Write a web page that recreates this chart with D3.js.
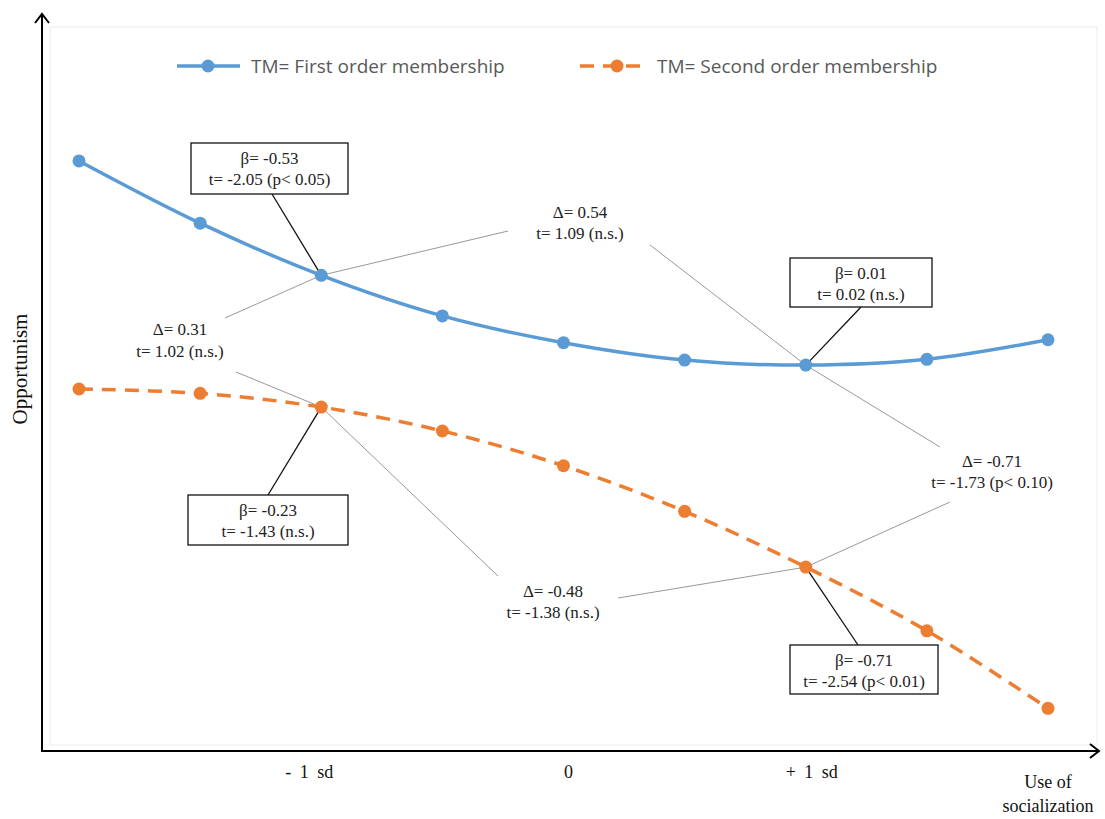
<!DOCTYPE html>
<html>
<head>
<meta charset="utf-8">
<script src="https://cdn.jsdelivr.net/npm/d3@7"></script>
<style>
  html, body { margin: 0; padding: 0; background: #fff; }
  svg { display: block; }
</style>
</head>
<body>
<svg id="chart" width="1105" height="819"></svg>
<script>
// ---------- data ----------
const xValues = [-2, -1.5, -1, -0.5, 0, 0.5, 1, 1.5, 2];           // use of socialization (sd units)
const firstOrder  = [8.15, 7.29, 6.57, 6.01, 5.64, 5.40, 5.33, 5.41, 5.68];
const secondOrder = [5.00, 4.94, 4.75, 4.42, 3.94, 3.31, 2.54, 1.66, 0.59];
const seriesNames = ["TM= First order membership", "TM= Second order membership"];
const tickValues = [-1, 0, 1];
const tickLabels = ["- 1 sd", "0", "+ 1 sd"];
const xTitle = ["Use of", "socialization"];
const yTitle = "Opportunism";

// slope boxes: [series index, x value, line1, line2]
const slopeNotes = [
  [0, -1, "β= -0.53", "t= -2.05 (p< 0.05)"],
  [0,  1, "β= 0.01",  "t= 0.02 (n.s.)"],
  [1, -1, "β= -0.23", "t= -1.43 (n.s.)"],
  [1,  1, "β= -0.71", "t= -2.54 (p< 0.01)"]
];
// difference notes: line1, line2, two anchored points [series, x]
const diffNotes = [
  ["Δ= 0.31",  "t= 1.02 (n.s.)",     [[0, -1], [1, -1]]],
  ["Δ= 0.54",  "t= 1.09 (n.s.)",     [[0, -1], [0, 1]]],
  ["Δ= -0.71", "t= -1.73 (p< 0.10)", [[0, 1], [1, 1]]],
  ["Δ= -0.48", "t= -1.38 (n.s.)",    [[1, -1], [1, 1]]]
];

// ---------- layout (pixels) ----------
const colors = ["#5B9BD5", "#ED7D31"];
const svg = d3.select("#chart");
const x = d3.scaleLinear().domain([-2, 2]).range([79, 1048]);
const y = d3.scaleLinear().domain([0, 10]).range([751, 27]);
const series = [firstOrder, secondOrder];
const pt = (s, xv) => [x(xv), y(series[s][xValues.indexOf(xv)])];
const serifFont = "'Liberation Serif', 'Times New Roman', serif";

// faint plot area border
svg.append("rect").attr("x", 50).attr("y", 27).attr("width", 1047).attr("height", 718)
  .attr("fill", "none").attr("stroke", "#ececec").attr("stroke-width", 1);

// axes with arrowheads
const axisG = svg.append("g").attr("stroke", "#000").attr("stroke-width", 2).attr("fill", "none");
axisG.append("path").attr("d", `M42,752 L42,14`);
axisG.append("path").attr("d", `M35,23 L42,14 L49,23`);
axisG.append("path").attr("d", `M41,751 L1099,751`);
axisG.append("path").attr("d", `M1090,744 L1099,751 L1090,758`);

// x tick labels using axis generator (no lines)
const xAxis = d3.axisBottom(x).tickValues(tickValues)
  .tickFormat((d, i) => tickLabels[i]).tickSize(0).tickPadding(0);
const gx = svg.append("g").attr("transform", "translate(0,762)").call(xAxis);
gx.select(".domain").remove();
gx.selectAll("text").attr("font-family", serifFont)
  .attr("font-size", 18).attr("fill", "#111").attr("dy", "0.9em")
  .attr("word-spacing", d => d === 0 ? 0 : 4).style("white-space", "pre");
gx.selectAll(".tick").attr("transform", d => `translate(${x(d) + (d === 0 ? 5 : (d < 0 ? -12 : 6))},0)`);

svg.append("text").attr("x", x(2)).attr("y", 788).attr("text-anchor", "middle")
  .attr("font-family", serifFont).attr("font-size", 18).attr("fill", "#111").text(xTitle[0]);
svg.append("text").attr("x", x(2)).attr("y", 812).attr("text-anchor", "middle")
  .attr("font-family", serifFont).attr("font-size", 18).attr("fill", "#111").text(xTitle[1]);

svg.append("text").attr("transform", "translate(27,369) rotate(-90)").attr("text-anchor", "middle")
  .attr("font-family", serifFont).attr("font-size", 21).attr("fill", "#111").text(yTitle);

// ---------- annotation leader lines (under series) ----------
const diffLayout = [
  {cx: 180, y1: 335, y2: 357, ends: [[225, 318], [236, 372]]},
  {cx: 580, y1: 218, y2: 239, ends: [[508, 231], [650, 245]]},
  {cx: 992, y1: 467, y2: 488, ends: [[940, 447], [950, 502]]},
  {cx: 553, y1: 597, y2: 618, ends: [[498, 576], [618, 598]]}
];
const annoLines = svg.append("g");
diffNotes.forEach((d, i) => {
  const L = diffLayout[i];
  d[2].forEach((a, k) => {
    const p = pt(a[0], a[1]);
    annoLines.append("line").attr("x1", L.ends[k][0]).attr("y1", L.ends[k][1])
      .attr("x2", p[0]).attr("y2", p[1]).attr("stroke", "#8c8c8c").attr("stroke-width", 0.9);
  });
});
const boxLayout = [
  {x0: 191, y0: 143, w: 157, h: 51, lx: 272, ly: 194},
  {x0: 790, y0: 258, w: 142, h: 49, lx: 861, ly: 307},
  {x0: 188, y0: 495, w: 160, h: 50, lx: 268, ly: 495},
  {x0: 790, y0: 645, w: 148, h: 49, lx: 858, ly: 645}
];
slopeNotes.forEach((d, i) => {
  const B = boxLayout[i];
  const p = pt(d[0], d[1]);
  annoLines.append("line").attr("x1", B.lx).attr("y1", B.ly).attr("x2", p[0]).attr("y2", p[1])
    .attr("stroke", "#111").attr("stroke-width", 1.3);
});

// ---------- series ----------
const line = d3.line().x((d, i) => x(xValues[i])).y(d => y(d)).curve(d3.curveCatmullRom.alpha(0.5));
series.forEach((s, si) => {
  svg.append("path").datum(s).attr("d", line).attr("fill", "none")
    .attr("stroke", colors[si]).attr("stroke-width", 3.5)
    .attr("stroke-dasharray", si === 1 ? "14,9" : null);
  svg.append("g").selectAll("circle").data(s).join("circle")
    .attr("cx", (d, i) => x(xValues[i])).attr("cy", d => y(d)).attr("r", 6.5)
    .attr("fill", colors[si]);
});

// ---------- boxes and texts ----------
slopeNotes.forEach((d, i) => {
  const B = boxLayout[i];
  svg.append("rect").attr("x", B.x0).attr("y", B.y0).attr("width", B.w).attr("height", B.h)
    .attr("fill", "#fff").attr("stroke", "#111").attr("stroke-width", 1.3);
  const cx = B.x0 + B.w / 2;
  svg.append("text").attr("x", cx).attr("y", B.y0 + 21).attr("text-anchor", "middle")
    .attr("font-family", serifFont).attr("font-size", 17).attr("fill", "#222").text(d[2]);
  svg.append("text").attr("x", cx).attr("y", B.y0 + 42).attr("text-anchor", "middle")
    .attr("font-family", serifFont).attr("font-size", 17).attr("fill", "#222").text(d[3]);
});
diffNotes.forEach((d, i) => {
  const L = diffLayout[i];
  svg.append("text").attr("x", L.cx).attr("y", L.y1).attr("text-anchor", "middle")
    .attr("font-family", serifFont).attr("font-size", 17).attr("fill", "#222").text(d[0]);
  svg.append("text").attr("x", L.cx).attr("y", L.y2).attr("text-anchor", "middle")
    .attr("font-family", serifFont).attr("font-size", 17).attr("fill", "#222").text(d[1]);
});

// ---------- legend ----------
const legend = [
  {x1: 177, x2: 240, mx: 208, tx: 251},
  {x1: 580, x2: 640, mx: 617, tx: 657}
];
legend.forEach((L, i) => {
  const g = svg.append("g");
  g.append("line").attr("x1", L.x1).attr("x2", L.x2).attr("y1", 66).attr("y2", 66)
    .attr("stroke", colors[i]).attr("stroke-width", 3.5)
    .attr("stroke-dasharray", i === 1 ? "14,9" : null);
  g.append("circle").attr("cx", L.mx).attr("cy", 66).attr("r", 6.5).attr("fill", colors[i]);
  g.append("text").attr("x", L.tx).attr("y", 73).attr("font-family", "'Open Sans', Lato, sans-serif")
    .attr("font-size", 19).attr("fill", "#595959").text(seriesNames[i]);
});
</script>
</body>
</html>
